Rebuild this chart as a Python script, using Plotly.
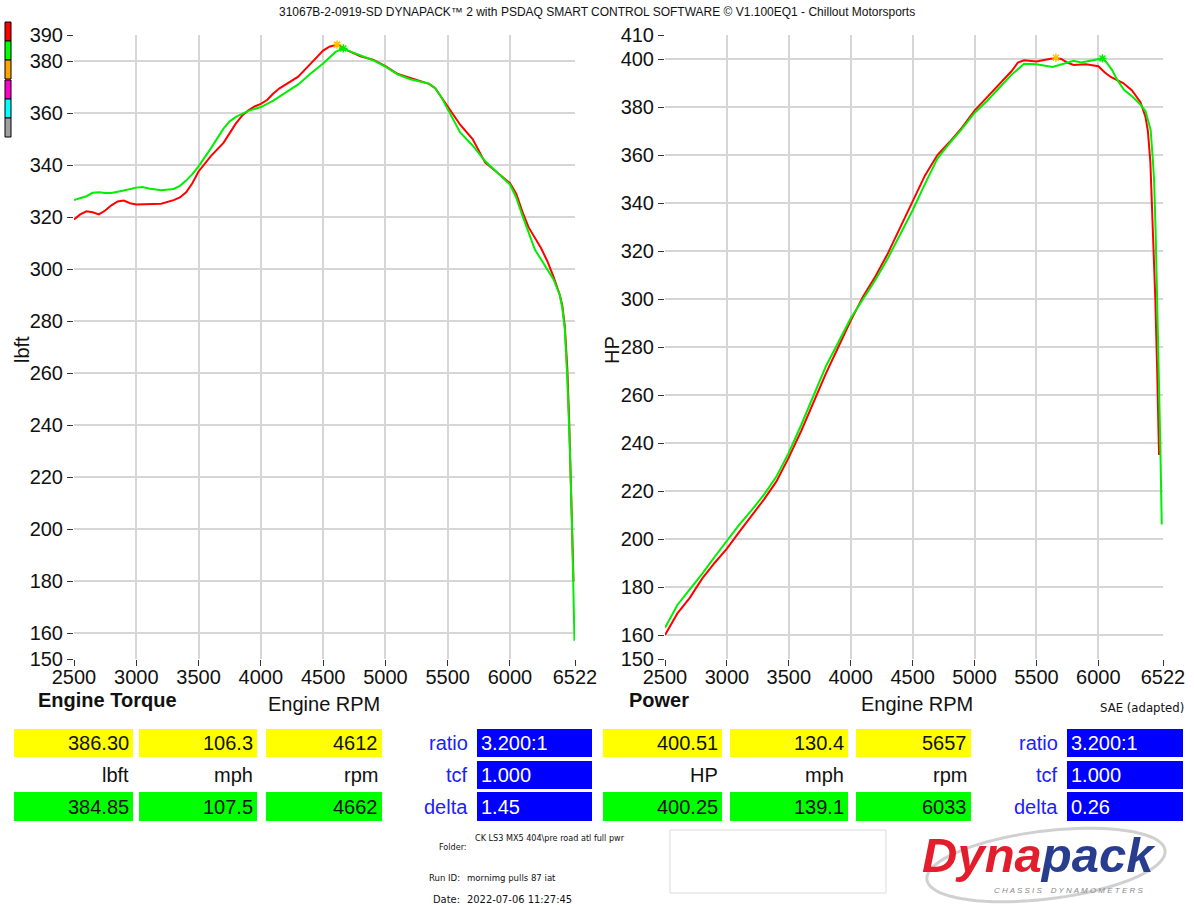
import numpy as np
import plotly.graph_objects as go

W, H = 1194, 905

# ---------------- data ----------------
rpm_tq_red = [2500, 2550, 2600, 2650, 2700, 2750, 2800, 2850, 2900, 2950, 3000, 3100, 3200, 3300, 3350,
              3400, 3450, 3500, 3600, 3700, 3750, 3800, 3850, 3900, 3950, 4000, 4050, 4100, 4150, 4200,
              4300, 4400, 4500, 4550, 4612, 4700, 4800, 4900, 5000, 5100, 5200, 5300, 5350, 5400, 5450,
              5500, 5600, 5700, 5750, 5800, 5900, 6000, 6050, 6100, 6150, 6200, 6250, 6300, 6350, 6400,
              6420, 6440, 6460, 6475, 6490, 6510]
tq_red = [319.0, 321.0, 322.2, 321.8, 321.0, 322.5, 324.5, 326.0, 326.3, 325.3, 324.8, 325.0, 325.1, 326.5, 327.5,
          329.5, 333.0, 337.5, 343.5, 348.5, 352.5, 356.0, 359.0, 361.0, 362.5, 363.5, 365.0, 367.5, 369.5, 371.0,
          374.0, 379.0, 384.0, 385.5, 386.3, 384.0, 381.8, 380.5, 378.0, 375.0, 373.5, 371.8, 371.2, 369.5, 366.0,
          362.0, 355.5, 350.0, 345.5, 341.0, 337.0, 333.0, 329.0, 322.0, 316.0, 312.0, 308.0, 303.0, 297.0, 290.0,
          286.0, 278.0, 262.0, 242.0, 219.0, 180.0]

rpm_tq_green = [2500, 2550, 2600, 2650, 2700, 2750, 2800, 2900, 3000, 3050, 3100, 3200, 3300, 3350, 3400,
                3450, 3500, 3600, 3700, 3750, 3800, 3900, 4000, 4100, 4200, 4300, 4400, 4500, 4600, 4662,
                4700, 4800, 4900, 5000, 5100, 5200, 5300, 5350, 5400, 5450, 5500, 5600, 5700, 5800, 5900,
                6000, 6050, 6100, 6200, 6300, 6350, 6400, 6420, 6440, 6460, 6480, 6497, 6518]
tq_green = [326.5, 327.3, 328.0, 329.3, 329.5, 329.2, 329.2, 330.2, 331.3, 331.5, 331.0, 330.3, 330.8, 332.0, 334.0,
            336.5, 339.5, 346.5, 354.0, 356.8, 358.5, 360.8, 362.3, 364.8, 368.0, 371.0, 375.2, 379.0, 383.5, 384.85,
            384.0, 382.0, 380.3, 377.8, 374.8, 373.0, 372.0, 371.3, 369.5, 366.0, 361.5, 352.5, 347.5, 341.5, 337.0,
            332.5, 327.5, 320.5, 307.5, 300.0, 296.0, 290.0, 285.0, 277.0, 258.0, 232.0, 203.0, 157.0]

rpm_hp_red = [2500, 2550, 2600, 2700, 2800, 2900, 3000, 3100, 3200, 3300, 3400, 3500, 3600, 3700, 3800,
              3900, 4000, 4100, 4200, 4300, 4400, 4500, 4600, 4700, 4800, 4900, 5000, 5100, 5200, 5300,
              5350, 5400, 5500, 5600, 5657, 5700, 5750, 5800, 5900, 6000, 6050, 6100, 6200, 6270, 6340,
              6380, 6400, 6420, 6440, 6460, 6475, 6490]
hp_red = [160.0, 164.5, 169.0, 175.5, 183.5, 190.0, 196.0, 203.0, 209.5, 216.5, 224.0, 234.0, 245.0, 257.0, 269.0,
          280.0, 291.0, 301.0, 309.5, 319.0, 330.0, 340.5, 351.5, 360.0, 365.5, 371.5, 378.5, 384.0, 389.5, 395.0,
          398.5, 399.5, 399.0, 400.0, 400.51, 400.0, 398.5, 397.5, 397.8, 397.0, 394.5, 392.5, 390.0, 387.0, 382.0,
          376.0, 370.0, 357.0, 330.0, 300.0, 270.0, 235.0]

rpm_hp_green = [2500, 2550, 2600, 2700, 2800, 2900, 3000, 3100, 3200, 3300, 3400, 3500, 3600, 3700, 3800,
                3900, 4000, 4100, 4200, 4300, 4400, 4500, 4600, 4700, 4800, 4900, 5000, 5100, 5200, 5300,
                5400, 5500, 5630, 5700, 5800, 5860, 6000, 6033, 6060, 6110, 6150, 6207, 6274, 6340, 6381,
                6422, 6440, 6450, 6462, 6480, 6500, 6512]
hp_green = [163.0, 168.0, 172.5, 179.0, 185.5, 192.5, 199.5, 206.0, 212.0, 218.5, 226.0, 236.0, 247.5, 260.0, 272.0,
            282.0, 292.0, 300.0, 308.0, 317.0, 327.0, 337.0, 348.0, 358.5, 365.0, 371.0, 377.5, 382.5, 388.0, 393.5,
            398.0, 397.8, 396.7, 397.8, 399.3, 398.6, 400.0, 400.25, 399.0, 395.5, 391.5, 387.2, 384.4, 381.0, 378.2,
            370.5, 358.0, 349.7, 329.0, 290.0, 240.0, 206.0]

tq_peak_red = (4612, 386.30)
tq_peak_green = (4662, 384.85)
hp_peak_red = (5657, 400.51)
hp_peak_green = (6033, 400.25)

x_tickvals = [2500, 3000, 3500, 4000, 4500, 5000, 5500, 6000, 6522]
x_ticktext = ["2500", "3000", "3500", "4000", "4500", "5000", "5500", "6000", "6522"]
tq_grid_ticks = [160, 180, 200, 220, 240, 260, 280, 300, 320, 340, 360, 380]
tq_edge_ticks = [150, 390]
hp_grid_ticks = [160, 180, 200, 220, 240, 260, 280, 300, 320, 340, 360, 380, 400]
hp_edge_ticks = [150, 410]

title_text = "31067B-2-0919-SD DYNAPACK\u2122 2 with PSDAQ SMART CONTROL SOFTWARE \u00a9 V1.100EQ1 - Chillout Motorsports"

tq_row_peak = ["386.30", "106.3", "4612"]
tq_row_units = ["lbft", "mph", "rpm"]
tq_row_second = ["384.85", "107.5", "4662"]
hp_row_peak = ["400.51", "130.4", "5657"]
hp_row_units = ["HP", "mph", "rpm"]
hp_row_second = ["400.25", "139.1", "6033"]
param_labels = ["ratio", "tcf", "delta"]
tq_params = ["3.200:1", "1.000", "1.45"]
hp_params = ["3.200:1", "1.000", "0.26"]

info_labels = ["Folder:", "Run ID:", "Date:"]
info_values = ["CK LS3 MX5 404\\pre road atl full pwr", "mornimg pulls 87 iat", "2022-07-06 11:27:45"]

swatch_colors = ["#ff0000", "#00ff00", "#ffa500", "#ff00cc", "#00ffff", "#a0a0a0"]

# ---------------- helpers ----------------
def px(x):
    return x / W

def py(y):
    return 1 - y / H

FONT = "Liberation Sans, Arial, sans-serif"
NARROW = "Liberation Sans Narrow, Arial Narrow, DejaVu Sans Condensed, Liberation Sans, sans-serif"
RED = "#ff0000"
GREEN = "#00ee00"
GRID = "#d6d6d6"

fig = go.Figure()

# curves
fig.add_trace(go.Scatter(x=rpm_tq_red, y=tq_red, mode="lines", line=dict(color=RED, width=2), xaxis="x", yaxis="y"))
fig.add_trace(go.Scatter(x=rpm_tq_green, y=tq_green, mode="lines", line=dict(color=GREEN, width=2), xaxis="x", yaxis="y"))
fig.add_trace(go.Scatter(x=rpm_hp_red, y=hp_red, mode="lines", line=dict(color=RED, width=2), xaxis="x2", yaxis="y2"))
fig.add_trace(go.Scatter(x=rpm_hp_green, y=hp_green, mode="lines", line=dict(color=GREEN, width=2), xaxis="x2", yaxis="y2"))

# peak markers (bound to the overlay axes that carry the edge ticks; same ranges)
for (pk, col, xa, ya) in [(tq_peak_red, "#ffc000", "x", "y3"),
                          (tq_peak_green, GREEN, "x", "y3"),
                          (hp_peak_red, "#ffc000", "x2", "y4"),
                          (hp_peak_green, GREEN, "x2", "y4")]:
    fig.add_trace(go.Scatter(x=[pk[0]], y=[pk[1]], mode="markers", xaxis=xa, yaxis=ya,
                             marker=dict(symbol="asterisk-open", size=7, color=col, line=dict(color=col, width=1.5))))

tickfont = dict(family=FONT, size=20, color="#111")
ydom = [py(659), py(35)]

xcommon = dict(range=[2500, 6522], tickvals=x_tickvals, ticktext=x_ticktext, showgrid=True, gridcolor=GRID,
               gridwidth=1.5, ticks="outside", ticklen=6, tickcolor="#333", tickwidth=1, showline=False,
               zeroline=False, tickfont=tickfont, fixedrange=True, automargin=False, ticklabelstandoff=-6)
ycommon = dict(showgrid=True, gridcolor=GRID, gridwidth=1.5, ticks="outside", ticklen=6, tickcolor="#333",
               showline=False, zeroline=False, tickfont=tickfont, ticklabelstandoff=0, automargin=False)
yedge = dict(side="left", showgrid=False, ticks="outside", ticklen=6, tickcolor="#333", showline=False,
             zeroline=False, tickfont=tickfont, ticklabelstandoff=0, automargin=False)

fig.update_layout(
    width=W, height=H, margin=dict(l=0, r=0, t=0, b=0, autoexpand=False),
    paper_bgcolor="white", plot_bgcolor="white", showlegend=False,
    xaxis=dict(domain=[px(74), px(575)], anchor="y", **xcommon),
    yaxis=dict(domain=ydom, anchor="x", range=[150, 390], tickvals=tq_grid_ticks, **ycommon),
    yaxis3=dict(overlaying="y", anchor="x", range=[150, 390], tickvals=tq_edge_ticks, **yedge),
    xaxis2=dict(domain=[px(665), px(1163)], anchor="y2", **xcommon),
    yaxis2=dict(domain=ydom, anchor="x2", range=[150, 410], tickvals=hp_grid_ticks, **ycommon),
    yaxis4=dict(overlaying="y2", anchor="x2", range=[150, 410], tickvals=hp_edge_ticks, **yedge),
)

shapes = []
ann = []

def text(x, y, s, size=20, color="#111", xanchor="left", family=FONT, bold=False, angle=0, yanchor="middle"):
    if bold:
        s = "<b>" + s + "</b>"
    ann.append(dict(x=px(x), y=py(y), xref="paper", yref="paper", text=s, showarrow=False,
                    xanchor=xanchor, yanchor=yanchor, textangle=angle,
                    font=dict(family=family, size=size, color=color)))

def rect(x0, y0, x1, y1, fill, line=None, lw=0):
    shapes.append(dict(type="rect", xref="paper", yref="paper", x0=px(x0), x1=px(x1), y0=py(y1), y1=py(y0),
                       fillcolor=fill, line=dict(color=line or fill, width=lw), layer="below"))

# title
text(597, 12, title_text, size=12, xanchor="center")

# swatches
sw_y = [22, 41, 60, 80, 99, 118]
for i, c in enumerate(swatch_colors):
    rect(5, sw_y[i], 11, sw_y[i] + 19, c, "black", 1)

# axis titles
text(22, 350, "lbft", size=20, angle=-90, xanchor="center")
text(612, 350, "HP", size=20, angle=-90, xanchor="center")
text(36, 700, "Engine Torque", size=20, bold=True)
text(324, 704, "Engine RPM", size=20, xanchor="center")
text(627, 700, "Power", size=20, bold=True)
text(917, 704, "Engine RPM", size=20, xanchor="center")
text(1186, 707, "SAE (adapted)", size=13, xanchor="right", family=NARROW)

# tables
rows_y = [(729, 757), (761, 789), (792, 821)]
def table(cols, blue, peak, units, second, params, label_x):
    for i, (x0, x1) in enumerate(cols):
        rect(x0, rows_y[0][0], x1, rows_y[0][1], "#ffff00")
        rect(x0, rows_y[2][0], x1, rows_y[2][1], "#00ff00")
        text(x1 - 2, sum(rows_y[0]) / 2, peak[i], xanchor="right")
        text(x1 - 2, sum(rows_y[1]) / 2, units[i], xanchor="right")
        text(x1 - 2, sum(rows_y[2]) / 2, second[i], xanchor="right")
    for j in range(3):
        rect(blue[0], rows_y[j][0], blue[1], rows_y[j][1], "#0000ff")
        text(blue[0] + 2, sum(rows_y[j]) / 2, params[j], color="white")
        text(label_x, sum(rows_y[j]) / 2, param_labels[j], color="#2020ff", xanchor="right")

table([(14, 133), (139, 257), (266, 382)], (477, 592), tq_row_peak, tq_row_units, tq_row_second, tq_params, 470)
table([(603, 722), (730, 848), (856, 971)], (1067, 1183), hp_row_peak, hp_row_units, hp_row_second, hp_params, 1060)

# info block
info_label_pos = [(469, 847), (462, 877), (462, 899)]
info_value_pos = [(473, 838), (465, 877), (465, 899)]
info_sizes = [9, 9.5, 11]
for k in range(3):
    text(info_label_pos[k][0], info_label_pos[k][1], info_labels[k], size=info_sizes[k], xanchor="right", family=NARROW)
    text(info_value_pos[k][0], info_value_pos[k][1], info_values[k], size=info_sizes[k], family=NARROW)
shapes.append(dict(type="rect", xref="paper", yref="paper", x0=px(670), x1=px(886), y0=py(893), y1=py(830),
                   line=dict(color="#dcdcdc", width=1), fillcolor="rgba(0,0,0,0)"))

# logo swoosh
t = np.linspace(0, 2 * np.pi, 80)
cx, cy, a, b, th = 1046, 865, 120, 34, np.deg2rad(-7)
ex = cx + a * np.cos(t) * np.cos(th) - b * np.sin(t) * np.sin(th)
ey = cy + a * np.cos(t) * np.sin(th) + b * np.sin(t) * np.cos(th)
path = "M " + " L ".join(f"{px(u):.5f},{py(v):.5f}" for u, v in zip(ex, ey)) + " Z"
shapes.append(dict(type="path", xref="paper", yref="paper", path=path, line=dict(color="#d0d0d0", width=3),
                   layer="below"))
ann.append(dict(x=px(1039), y=py(884), xref="paper", yref="paper", showarrow=False, xanchor="center",
                yanchor="bottom",
                text="<b><i><span style='color:#e31d2b'>Dyna</span><span style='color:#283d8f'>pack</span></i></b>",
                font=dict(family="Liberation Sans, Arial", size=49)))
ann.append(dict(x=px(1068), y=py(884), xref="paper", yref="paper", showarrow=False, xanchor="center",
                yanchor="top", text="<i>C H A S S I S    D Y N A M O M E T E R S</i>",
                font=dict(family=FONT, size=8, color="#8a8a8a")))

fig.update_layout(shapes=shapes, annotations=ann)

fig.write_html("out.html", config={"displayModeBar": False},
               post_script="document.body.style.margin='0';")
